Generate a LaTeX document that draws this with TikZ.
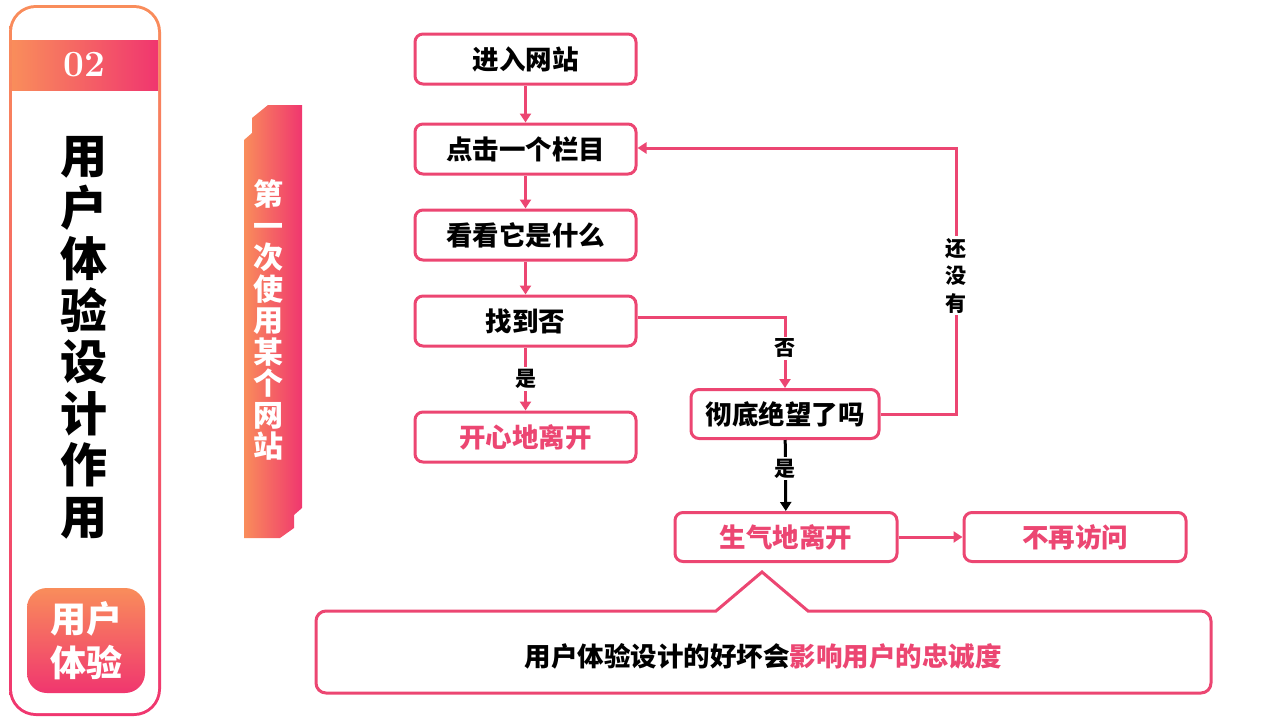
\documentclass[tikz,border=0pt]{standalone}
\usepackage{fontspec}
\newfontfamily\cjk{Noto Sans CJK SC}
\newfontfamily\cjkh{Noto Sans CJK SC}[UprightFont=* Black]
\usetikzlibrary{arrows.meta,shapes.geometric}
\definecolor{pk}{HTML}{EC4672}
\definecolor{pkd}{HTML}{F0366F}
\definecolor{org}{HTML}{F98D5B}
\tikzset{
  fbox/.style={draw=pk,line width=3pt,rounded corners=8pt,fill=white,minimum height=50pt,font=\cjk\bfseries\fontsize{26.5}{28}\selectfont,text=black},
  pkt/.style={text=pk},
  arr/.style={draw=pk,line width=3pt,-{Triangle[width=11pt,length=9pt]}},
  lbl/.style={fill=white,inner sep=2pt,font=\cjk\bfseries\fontsize{21}{23}\selectfont,text=black},
}
\begin{document}
\begin{tikzpicture}[x=1pt,y=-1pt]
\useasboundingbox (0,0) rectangle (1280,720);
% left panel (gradient border)
\shade[top color=org,bottom color=pkd,rounded corners=27pt] (9,5) rectangle (161,716);
\fill[white,rounded corners=24pt] (12,8) rectangle (158,713);
\shade[left color=org,right color=pkd] (12,40) rectangle (158,90);
\node[text=white,font=\bfseries\fontsize{37}{38}\selectfont] (num) at (84,65) {02};
\node[align=center,font=\cjkh\fontsize{47}{51.5}\selectfont,text=black] (title) at (84,338) {用\\户\\体\\验\\设\\计\\作\\用};
\shade[left color=org,right color=pkd,shading angle=0,rounded corners=20pt] (27,588) rectangle (145,693);
\node[align=center,text=white,font=\cjkh\fontsize{36}{44}\selectfont] (btn) at (86,641) {用户\\体验};
% vertical banner
\shade[left color=org,right color=pkd] (244,140) -- (252,133) -- (252,118) -- (268,105) -- (302,105) -- (302,508) -- (294,515) -- (294,528) -- (280,538) -- (244,538) -- cycle;
\node[align=center,text=white,font=\cjk\bfseries\fontsize{30}{31.5}\selectfont] (banner) at (268,320) {第\\一\\次\\使\\用\\某\\个\\网\\站};
% flowchart boxes
\node[fbox,minimum width=221pt] (a) at (525.5,59) {进入网站};
\node[fbox,minimum width=221pt] (b) at (525.5,149) {点击一个栏目};
\node[fbox,minimum width=221pt] (c) at (525.5,235) {看看它是什么};
\node[fbox,minimum width=221pt] (d) at (525.5,321) {找到否};
\node[fbox,minimum width=221pt,pkt] (e) at (525.5,437) {开心地离开};
\node[fbox,minimum width=188pt,minimum height=49pt] (f) at (785,414) {彻底绝望了吗};
\node[fbox,minimum width=222pt,minimum height=49pt,pkt] (g) at (786,537) {生气地离开};
\node[fbox,minimum width=222pt,minimum height=49pt,pkt] (h) at (1075,537) {不再访问};
% connectors
\draw[arr] (a) -- (b);
\draw[arr] (b) -- (c);
\draw[arr] (c) -- (d);
\draw[arr] (d) -- node[lbl] {是} (e);
\draw[arr] (d.east |- 0,317) -| node[lbl,pos=0.72] {否} (f.north);
\draw[arr] (f.east) -| node[lbl,pos=0.76,align=center,font=\cjk\bfseries\fontsize{21}{27.5}\selectfont] {还\\没\\有} (956,148) -- (b.east |- 0,148);
\draw[line width=3pt,-{Triangle[width=11pt,length=9pt]}] (f) -- node[lbl,pos=0.4] {是} (g);
\draw[arr] (g) -- (h);
% callout
\coordinate (tip) at (762,572);
\draw[pk,line width=3pt] (808,611) [rounded corners=10pt]-- (1211,611) -- (1211,693) -- (316,693) -- (316,611) [sharp corners]-- (716,611) -- (tip) -- cycle;
\node[font=\cjk\bfseries\fontsize{26.5}{28}\selectfont,text=black] (msg) at (763,656) {用户体验设计的好坏会\textcolor{pk}{影响用户的忠诚度}};
\end{tikzpicture}
\end{document}
